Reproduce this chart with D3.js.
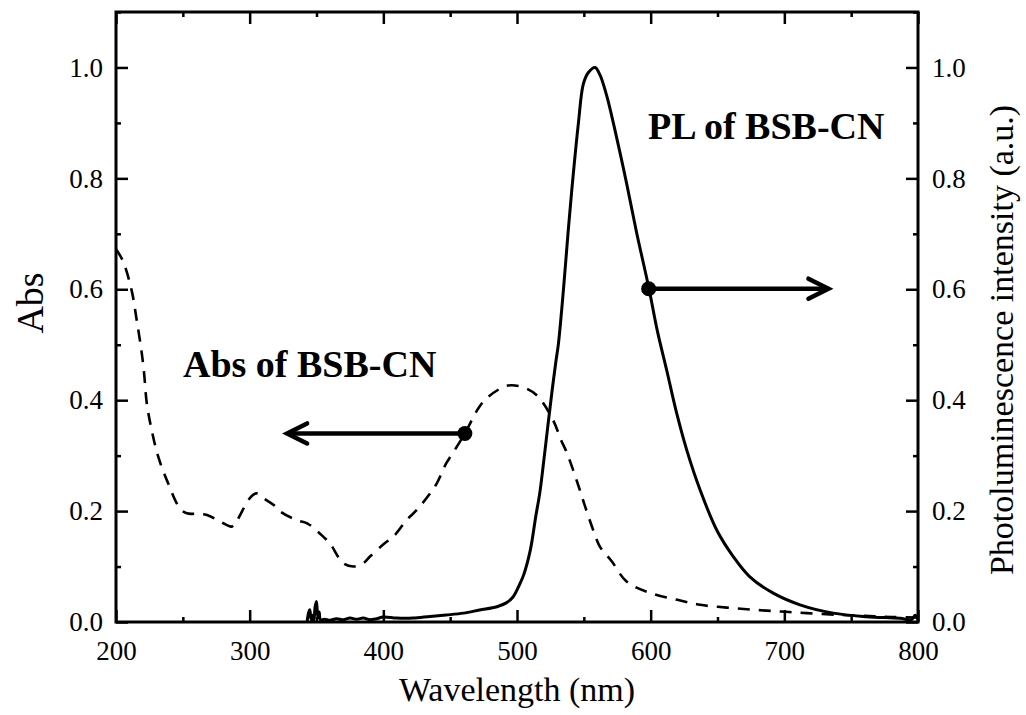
<!DOCTYPE html>
<html>
<head>
<meta charset="utf-8">
<script src="https://cdn.jsdelivr.net/npm/d3@7"></script>
<style>
  html, body { margin: 0; padding: 0; background: #fff; }
  svg { display: block; }
  text { font-family: "Liberation Serif", "Times New Roman", serif; fill: #000; }
</style>
</head>
<body>
<svg id="chart" width="1026" height="715"></svg>
<script>
// Absorption spectrum of BSB-CN (wavelength nm, absorbance)
const absWavelength = [200, 205, 211.7, 215.5, 219, 221, 223, 226.7, 231.6, 239, 247.8, 253, 260, 268, 278, 286.5, 290, 300, 305, 311, 318, 323, 335, 343, 350, 355, 360, 370, 377.5, 385, 390, 401, 407.5, 417.5, 425, 435, 440, 447, 451, 461, 471, 477, 490, 496, 507, 516, 527, 533, 537, 542, 547, 551, 557, 562, 571, 582, 600, 620, 637, 657, 677, 697, 717, 740, 760, 780, 800];
const absValue = [0.672, 0.652, 0.598, 0.544, 0.49, 0.449, 0.395, 0.346, 0.298, 0.25, 0.205, 0.196, 0.195, 0.193, 0.181, 0.172, 0.181, 0.223, 0.232, 0.222, 0.211, 0.199, 0.184, 0.178, 0.165, 0.154, 0.142, 0.106, 0.1, 0.106, 0.118, 0.142, 0.154, 0.184, 0.202, 0.232, 0.25, 0.286, 0.301, 0.34, 0.385, 0.403, 0.424, 0.427, 0.421, 0.406, 0.364, 0.328, 0.307, 0.274, 0.238, 0.208, 0.166, 0.136, 0.109, 0.073, 0.052, 0.04, 0.031, 0.026, 0.022, 0.019, 0.016, 0.013, 0.011, 0.009, 0.008];

// Photoluminescence spectrum of BSB-CN (wavelength nm, normalised intensity)
const plWavelength = [343, 344, 345, 346, 347, 348, 349, 350, 351, 352, 353, 356, 360, 365, 370, 375, 380, 385, 390, 395, 400, 410, 422, 435, 447, 460, 472, 485, 492, 497, 502, 505, 510, 514, 517, 520, 523, 526, 529, 531, 534.7, 538.4, 542, 546, 549.6, 553.4, 558.4, 562, 567, 574.5, 582, 589.5, 598.5, 605, 612, 619.5, 627, 637, 649.4, 661.8, 674, 691.7, 711.7, 736.6, 761.5, 786.5, 795, 798, 800];
const plValue = [0.0, 0.016, 0.022, 0.004, 0.012, 0.002, 0.028, 0.037, 0.008, 0.018, 0.004, 0.005, 0.003, 0.006, 0.004, 0.007, 0.005, 0.007, 0.004, 0.006, 0.009, 0.007, 0.007, 0.01, 0.0126, 0.016, 0.0216, 0.0276, 0.0345, 0.045, 0.068, 0.085, 0.13, 0.19, 0.232, 0.29, 0.352, 0.412, 0.468, 0.502, 0.598, 0.708, 0.805, 0.901, 0.97, 0.991, 1.0, 0.987, 0.95, 0.874, 0.791, 0.702, 0.604, 0.525, 0.454, 0.376, 0.31, 0.238, 0.166, 0.118, 0.082, 0.052, 0.031, 0.016, 0.0096, 0.0066, 0.004, 0.012, 0.004];

// Axis ticks
const xMajorTicks = [200, 300, 400, 500, 600, 700, 800];
const xMinorTicks = [250, 350, 450, 550, 650, 750];
const yMajorTicks = [0.0, 0.2, 0.4, 0.6, 0.8, 1.0];
const yMinorTicks = [0.1, 0.3, 0.5, 0.7, 0.9, 1.1];

// Annotation arrows: [start wavelength, end wavelength, level]
const absArrow = [461, 328, 0.34];
const plArrow = [598.5, 733, 0.601];

const svg = d3.select("#chart");
const plot = { left: 116, right: 918, top: 12, bottom: 622 };

const x = d3.scaleLinear().domain([200, 800]).range([plot.left, plot.right]);
const yL = d3.scaleLinear().domain([0, 1.1]).range([plot.bottom, plot.top]);
const yR = d3.scaleLinear().domain([0, 1.1]).range([plot.bottom, plot.top]);

const fmt = d3.format(".1f");
const tickFont = 27;

function styleAxis(g) {
  g.select(".domain").remove();
  g.selectAll(".tick line").attr("stroke", "#000").attr("stroke-width", 2.5);
  g.selectAll(".tick text").style("font-size", tickFont + "px").attr("fill", "#000");
}

// bottom axis
svg.append("g").attr("transform", `translate(0,${plot.bottom})`)
  .call(d3.axisBottom(x).tickValues(xMajorTicks).tickSize(-12).tickPadding(19).tickFormat(d3.format("d")))
  .call(styleAxis);
svg.append("g").attr("transform", `translate(0,${plot.bottom})`)
  .call(d3.axisBottom(x).tickValues(xMinorTicks).tickSize(-5).tickFormat(""))
  .call(styleAxis);
// top axis
svg.append("g").attr("transform", `translate(0,${plot.top})`)
  .call(d3.axisTop(x).tickValues(xMajorTicks).tickSize(-12).tickFormat(""))
  .call(styleAxis);
svg.append("g").attr("transform", `translate(0,${plot.top})`)
  .call(d3.axisTop(x).tickValues(xMinorTicks).tickSize(-5).tickFormat(""))
  .call(styleAxis);
// left axis
svg.append("g").attr("transform", `translate(${plot.left},0)`)
  .call(d3.axisLeft(yL).tickValues(yMajorTicks).tickSize(-12).tickPadding(13).tickFormat(fmt))
  .call(styleAxis);
svg.append("g").attr("transform", `translate(${plot.left},0)`)
  .call(d3.axisLeft(yL).tickValues(yMinorTicks).tickSize(-5).tickFormat(""))
  .call(styleAxis);
// right axis
svg.append("g").attr("transform", `translate(${plot.right},0)`)
  .call(d3.axisRight(yR).tickValues(yMajorTicks).tickSize(-12).tickPadding(14).tickFormat(fmt))
  .call(styleAxis);
svg.append("g").attr("transform", `translate(${plot.right},0)`)
  .call(d3.axisRight(yR).tickValues(yMinorTicks).tickSize(-5).tickFormat(""))
  .call(styleAxis);

// frame
svg.append("rect")
  .attr("x", plot.left).attr("y", plot.top)
  .attr("width", plot.right - plot.left).attr("height", plot.bottom - plot.top)
  .attr("fill", "none").attr("stroke", "#000").attr("stroke-width", 3);

// spectra
const absData = absWavelength.map((w, i) => [w, absValue[i]]);
const plData = plWavelength.map((w, i) => [w, plValue[i]]);

svg.append("clipPath").attr("id", "plot-clip").append("rect")
  .attr("x", plot.left).attr("y", plot.top)
  .attr("width", plot.right - plot.left).attr("height", plot.bottom - plot.top);

const lines = svg.append("g").attr("clip-path", "url(#plot-clip)");

lines.append("path")
  .datum(absData)
  .attr("fill", "none").attr("stroke", "#000").attr("stroke-width", 2.6)
  .attr("stroke-dasharray", "12,9")
  .attr("d", d3.line().x(d => x(d[0])).y(d => yL(d[1])).curve(d3.curveCatmullRom.alpha(0.5)));

lines.append("path")
  .datum(plData)
  .attr("fill", "none").attr("stroke", "#000").attr("stroke-width", 3)
  .attr("stroke-linejoin", "round")
  .attr("d", d3.line().x(d => x(d[0])).y(d => yR(d[1])).curve(d3.curveCatmullRom.alpha(0.5)));

// arrows
function drawArrow(spec, yScale) {
  const [w0, w1, v] = spec;
  const x0 = x(w0), x1 = x(w1), yy = yScale(v);
  const dir = Math.sign(x1 - x0);
  const g = svg.append("g");
  g.append("line").attr("x1", x0).attr("y1", yy).attr("x2", x1).attr("y2", yy)
    .attr("stroke", "#000").attr("stroke-width", 4.5);
  g.append("path")
    .attr("d", `M${x1 - dir * 20},${yy - 10} L${x1},${yy} L${x1 - dir * 20},${yy + 10}`)
    .attr("fill", "none").attr("stroke", "#000").attr("stroke-width", 4.5)
    .attr("stroke-linecap", "round").attr("stroke-linejoin", "miter");
  g.append("circle").attr("cx", x0).attr("cy", yy).attr("r", 7.5).attr("fill", "#000");
}
drawArrow(absArrow, yL);
drawArrow(plArrow, yR);

// annotations
svg.append("text").attr("x", 648).attr("y", 139)
  .style("font-size", "38px").style("font-weight", "bold")
  .text("PL of BSB-CN");
svg.append("text").attr("x", 183).attr("y", 377)
  .style("font-size", "38px").style("font-weight", "bold")
  .text("Abs of BSB-CN");

// axis titles
svg.append("text").attr("x", (plot.left + plot.right) / 2).attr("y", 701)
  .attr("text-anchor", "middle").style("font-size", "34px")
  .text("Wavelength (nm)");
svg.append("text")
  .attr("transform", `translate(43,303) rotate(-90)`)
  .attr("text-anchor", "middle").style("font-size", "38px")
  .text("Abs");
svg.append("text")
  .attr("transform", `translate(1013,340) rotate(-90)`)
  .attr("text-anchor", "middle").style("font-size", "34px")
  .text("Photoluminescence intensity (a.u.)");
</script>
</body>
</html>
